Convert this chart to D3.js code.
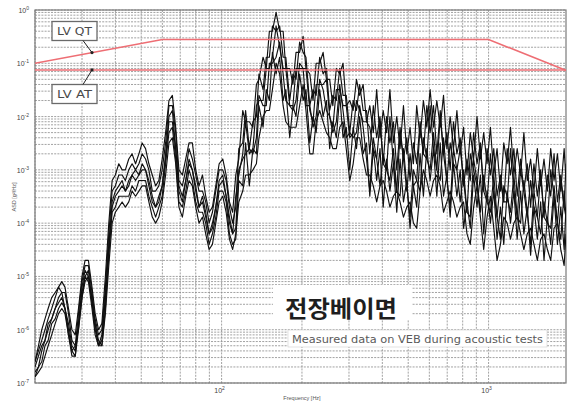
<!DOCTYPE html>
<html>
<head>
<meta charset="utf-8">
<script src="https://cdn.jsdelivr.net/npm/d3@7"></script>
<style>
  body { margin: 0; background: #fff; }
  svg { display: block; }
</style>
</head>
<body>
<svg id="chart" width="568" height="405"></svg>
<script>
// Frequency grid (Hz), roughly 1/24 octave spacing
const frequencies = [
  20, 20.6, 21.2, 21.8, 22.4, 23.1, 23.8, 24.5, 25.2, 25.9, 26.7, 27.5, 28.3, 29.1, 30.0, 30.8, 31.7, 32.7, 33.6, 34.6, 35.6, 36.7, 37.8, 38.9,
  40, 41.2, 42.4, 43.6, 44.9, 46.2, 47.6, 49.0, 50.4, 51.9, 53.4, 55.0, 56.6, 58.2, 59.9, 61.7, 63.5, 65.4, 67.3, 69.2, 71.3, 73.4, 75.5, 77.7,
  80, 82.3, 84.8, 87.2, 89.8, 92.4, 95.1, 97.9, 101, 104, 107, 110, 113, 116, 120, 123, 127, 131, 135, 138, 143, 147, 151, 155,
  160, 165, 170, 174, 180, 185, 190, 196, 202, 207, 214, 220, 226, 233, 240, 247, 254, 261, 269, 277, 285, 293, 302, 311,
  320, 329, 339, 349, 359, 370, 381, 392, 403, 415, 427, 440, 453, 466, 480, 494, 508, 523, 538, 554, 570, 587, 604, 622,
  640, 659, 678, 698, 718, 739, 761, 783, 806, 830, 854, 879, 905, 932, 959, 987, 1016, 1046, 1076, 1108, 1140, 1174, 1208, 1244,
  1280, 1318, 1356, 1396, 1437, 1479, 1523, 1567, 1613, 1661, 1709, 1759, 1811, 1864, 1919, 1950
];

// Measured ASD (g^2/Hz) on the VEB, one array per acoustic test run
const run1 = [
  2.5e-7, 4e-7, 6.3e-7, 1e-6, 1.6e-6, 2.5e-6, 4e-6, 6.3e-6, 8e-6, 6.3e-6, 2.5e-6, 1e-6, 8e-7, 2.5e-6, 1e-5, 2e-5, 2e-5, 6.3e-6, 2e-6, 1e-6, 1.3e-6, 1e-5, 1e-4, 6.3e-4,
  8e-4, 1.3e-3, 1e-3, 1e-3, 1.6e-3, 2e-3, 1.3e-3, 2e-3, 3.2e-3, 2.5e-3, 1.3e-3, 8e-4, 5e-4, 6.3e-4, 1.6e-3, 5e-3, 2e-2, 2.5e-2, 6.3e-3, 1e-3, 8e-4, 1.6e-3, 3.2e-3, 3.2e-3,
  1e-3, 5e-4, 8e-4, 3.2e-4, 1.6e-4, 2e-4, 5e-4, 1.3e-3, 1.6e-3, 8e-4, 2.5e-4, 1.6e-4, 8e-4, 1.6e-3, 1.3e-2, 8e-3, 8e-3, 6.3e-3, 4e-2, 5e-2, 0.13, 8e-2, 0.4, 0.4,
  0.9, 0.4, 0.4, 8e-2, 8e-2, 4e-2, 0.16, 0.16, 0.32, 8e-2, 6.3e-2, 2e-2, 0.1, 0.1, 0.16, 5e-2, 5e-2, 1.6e-2, 8e-2, 6.3e-2, 0.1, 1.6e-2, 2e-2, 1.3e-2,
  5e-2, 2.5e-2, 4e-2, 8e-3, 1.6e-2, 5e-3, 3.2e-2, 4e-3, 1.3e-2, 5e-3, 3.2e-2, 3.2e-3, 1e-2, 2.5e-3, 1.6e-2, 2e-3, 6.3e-3, 1.3e-3, 1.6e-2, 4e-3, 2e-2, 6.3e-3, 3.2e-2, 6.3e-3,
  2e-2, 6.3e-3, 2.5e-2, 2.5e-3, 1e-2, 2.5e-3, 1.3e-2, 2e-3, 6.3e-3, 8e-4, 5e-3, 1.6e-3, 1e-2, 1.6e-3, 5e-3, 1.3e-3, 6.3e-3, 8e-4, 2.5e-3, 4e-4, 3.2e-3, 1.3e-3, 6.3e-3, 8e-4,
  2.5e-3, 8e-4, 5e-3, 6.3e-4, 1.6e-3, 4e-4, 2.5e-3, 5e-4, 1.6e-3, 4e-4, 2.5e-3, 6.3e-4, 2e-3, 4e-4, 2.5e-3, 6.3e-4, 2e-3
];
const run2 = [
  1.3e-7, 2e-7, 4e-7, 6.3e-7, 1e-6, 1.6e-6, 2.5e-6, 4e-6, 5e-6, 5e-6, 2e-6, 6.3e-7, 5e-7, 2e-6, 8e-6, 1.6e-5, 1.6e-5, 5e-6, 1.6e-6, 8e-7, 1e-6, 6.3e-6, 6.3e-5, 4e-4,
  5e-4, 8e-4, 8e-4, 6.3e-4, 1e-3, 1.3e-3, 1e-3, 1.3e-3, 2e-3, 1.6e-3, 1e-3, 4e-4, 4e-4, 5e-4, 1e-3, 3.2e-3, 1.6e-2, 1.6e-2, 5e-3, 6.3e-4, 5e-4, 1e-3, 2.5e-3, 1.6e-3,
  8e-4, 4e-4, 4e-4, 2.5e-4, 1e-4, 1.6e-4, 4e-4, 1e-3, 1e-3, 6.3e-4, 2e-4, 1e-4, 2e-4, 2.5e-3, 3.2e-3, 1.3e-2, 2.5e-3, 8e-3, 1e-2, 6.3e-2, 3.2e-2, 0.13, 0.13, 0.5,
  0.4, 0.5, 0.13, 0.13, 2e-2, 6.3e-2, 5e-2, 0.25, 0.16, 0.13, 1.6e-2, 3.2e-2, 2.5e-2, 0.13, 6.3e-2, 8e-2, 1.3e-2, 2.5e-2, 2e-2, 8e-2, 2.5e-2, 2.5e-2, 5e-3, 2e-2,
  1.3e-2, 4e-2, 1.3e-2, 1.3e-2, 2e-3, 1.6e-2, 4e-3, 1e-2, 1.3e-3, 1e-2, 3.2e-3, 8e-3, 1e-3, 6.3e-3, 1.6e-3, 4e-3, 6.3e-4, 3.2e-3, 1.3e-3, 8e-3, 2e-3, 1.6e-2, 5e-3, 1.6e-2,
  2e-3, 1.3e-2, 2e-3, 5e-3, 1e-3, 8e-3, 2e-3, 4e-3, 5e-4, 1.6e-3, 6.3e-4, 5e-3, 1.3e-3, 3.2e-3, 4e-4, 2.5e-3, 8e-4, 2.5e-3, 3.2e-4, 8e-4, 2.5e-4, 2.5e-3, 8e-4, 2.5e-3,
  3.2e-4, 1.6e-3, 4e-4, 1.3e-3, 2e-4, 1.3e-3, 3.2e-4, 1e-3, 1.3e-4, 8e-4, 3.2e-4, 2e-3, 2.5e-4, 8e-4, 2e-4, 1.3e-3, 4e-4
];
const run3 = [
  1.6e-7, 2e-7, 2.5e-7, 5e-7, 6.3e-7, 1.3e-6, 1.6e-6, 2.5e-6, 3.2e-6, 2.5e-6, 1e-6, 4e-7, 3.2e-7, 1.3e-6, 6.3e-6, 1.3e-5, 1e-5, 3.2e-6, 1e-6, 5e-7, 6.3e-7, 4e-6, 4e-5, 2.5e-4,
  4e-4, 5e-4, 6.3e-4, 4e-4, 6.3e-4, 8e-4, 1e-3, 8e-4, 1.3e-3, 1e-3, 6.3e-4, 3.2e-4, 2e-4, 3.2e-4, 5e-4, 2e-3, 1e-2, 1.3e-2, 2.5e-3, 5e-4, 3.2e-4, 6.3e-4, 1.6e-3, 1e-3,
  5e-4, 2e-4, 3.2e-4, 1.6e-4, 6.3e-5, 1e-4, 2e-4, 6.3e-4, 8e-4, 3.2e-4, 1.3e-4, 6.3e-5, 3.2e-4, 8e-4, 2e-3, 8e-3, 2e-3, 2.5e-3, 1.6e-2, 2e-2, 2e-2, 8e-2, 8e-2, 0.13,
  0.5, 0.2, 8e-2, 8e-2, 1.6e-2, 1.6e-2, 8e-2, 8e-2, 8e-2, 8e-2, 1.3e-2, 8e-3, 4e-2, 4e-2, 4e-2, 5e-2, 1e-2, 6.3e-3, 3.2e-2, 3.2e-2, 1.6e-2, 1.6e-2, 4e-3, 5e-3,
  2e-2, 1.3e-2, 8e-3, 8e-3, 6.3e-3, 2.5e-3, 1.6e-3, 8e-3, 1.3e-3, 1e-3, 1e-2, 1.3e-3, 4e-4, 5e-3, 1.6e-3, 4e-4, 2e-3, 5e-4, 6.3e-4, 6.3e-3, 2e-3, 1.6e-3, 1.6e-2, 2.5e-3,
  1e-3, 1e-2, 2e-3, 6.3e-4, 3.2e-3, 1.3e-3, 1e-3, 2.5e-3, 6.3e-4, 1.6e-4, 2e-3, 1e-3, 5e-4, 2.5e-3, 4e-4, 2.5e-4, 2e-3, 4e-4, 1.3e-4, 6.3e-4, 2.5e-4, 2.5e-4, 2.5e-3, 4e-4,
  1.3e-4, 1e-3, 4e-4, 1.3e-4, 6.3e-4, 2e-4, 1.3e-4, 8e-4, 1.3e-4, 1e-4, 1e-3, 3.2e-4, 1e-4, 6.3e-4, 2e-4, 1.3e-4, 8e-4
];
const run4 = [
  2e-7, 3.2e-7, 5e-7, 6.3e-7, 1.3e-6, 1.6e-6, 2.5e-6, 3.2e-6, 4e-6, 2.5e-6, 1.3e-6, 5e-7, 4e-7, 1.3e-6, 5e-6, 1e-5, 1.3e-5, 3.2e-6, 1.3e-6, 5e-7, 8e-7, 4e-6, 3.2e-5, 2e-4,
  3.2e-4, 4e-4, 5e-4, 4e-4, 5e-4, 8e-4, 6.3e-4, 8e-4, 1e-3, 1e-3, 5e-4, 2.5e-4, 2e-4, 2.5e-4, 5e-4, 1.6e-3, 8e-3, 8e-3, 2.5e-3, 4e-4, 2.5e-4, 6.3e-4, 1.3e-3, 1e-3,
  4e-4, 2e-4, 2.5e-4, 1.3e-4, 6.3e-5, 8e-5, 2e-4, 5e-4, 6.3e-4, 3.2e-4, 1e-4, 6.3e-5, 8e-5, 1e-3, 1.6e-3, 2e-3, 2.5e-3, 2e-3, 4e-3, 2.5e-2, 1.6e-2, 1.6e-2, 0.1, 0.1,
  0.13, 0.25, 6.3e-2, 2e-2, 1.6e-2, 1.3e-2, 2e-2, 0.1, 8e-2, 1.6e-2, 1.6e-2, 6.3e-3, 1e-2, 5e-2, 3.2e-2, 1.3e-2, 1e-2, 5e-3, 8e-3, 4e-2, 1.3e-2, 4e-3, 5e-3, 4e-3,
  5e-3, 1.6e-2, 6.3e-3, 1.6e-3, 4e-4, 4e-3, 1.6e-3, 5e-4, 2e-3, 1e-3, 6.3e-4, 2.5e-3, 4e-4, 3.2e-4, 2.5e-3, 5e-4, 1.3e-4, 1e-3, 6.3e-4, 4e-4, 4e-3, 1.6e-3, 1e-3, 5e-3,
  1e-3, 6.3e-4, 4e-3, 6.3e-4, 2e-4, 2.5e-3, 1e-3, 2.5e-4, 1e-3, 1.6e-4, 1.3e-4, 1.6e-3, 6.3e-4, 1.6e-4, 8e-4, 2.5e-4, 1.6e-4, 8e-4, 1.3e-4, 5e-5, 5e-4, 3.2e-4, 1.6e-4, 8e-4,
  1.3e-4, 1e-4, 6.3e-4, 1.6e-4, 4e-5, 4e-4, 1.3e-4, 6.3e-5, 2.5e-4, 1e-4, 8e-5, 5e-4, 1e-4, 5e-5, 4e-4, 1.3e-4, 8e-5
];
const run5 = [
  2.5e-7, 5e-7, 1e-6, 1.6e-6, 2.5e-6, 4e-6, 5e-6, 6.3e-6, 5e-6, 2.5e-6, 8e-7, 4e-7, 5e-7, 1e-6, 4e-6, 8e-6, 1e-5, 4e-6, 1.3e-6, 6.3e-7, 5e-7, 2.5e-6, 2.5e-5, 1.6e-4,
  2e-4, 3.2e-4, 3.2e-4, 3.2e-4, 3.2e-4, 5e-4, 4e-4, 6.3e-4, 6.3e-4, 6.3e-4, 3.2e-4, 2e-4, 1.3e-4, 2e-4, 3.2e-4, 1.3e-3, 5e-3, 6.3e-3, 1.6e-3, 2.5e-4, 2e-4, 4e-4, 1e-3, 6.3e-4,
  2.5e-4, 1.6e-4, 1.6e-4, 1e-4, 4e-5, 6.3e-5, 1.3e-4, 4e-4, 4e-4, 2.5e-4, 6.3e-5, 4e-5, 5e-5, 6.3e-4, 5e-4, 3.2e-3, 5e-4, 2.5e-3, 2e-3, 1.6e-2, 6.3e-3, 3.2e-2, 2e-2, 0.16,
  6.3e-2, 0.13, 2e-2, 3.2e-2, 4e-3, 1.6e-2, 1e-2, 6.3e-2, 2e-2, 3.2e-2, 3.2e-3, 1e-2, 5e-3, 3.2e-2, 1e-2, 2e-2, 2.5e-3, 8e-3, 4e-3, 2.5e-2, 4e-3, 6.3e-3, 1e-3, 6.3e-3,
  2.5e-3, 1e-2, 2e-3, 3.2e-3, 3.2e-4, 2.5e-3, 6.3e-4, 2.5e-3, 2e-4, 1.6e-3, 4e-4, 1.3e-3, 1.6e-4, 1.6e-3, 2.5e-4, 6.3e-4, 8e-5, 5e-4, 2e-4, 2e-3, 3.2e-4, 2.5e-3, 6.3e-4, 2.5e-3,
  3.2e-4, 3.2e-3, 3.2e-4, 8e-4, 1.3e-4, 1.3e-3, 3.2e-4, 1e-3, 8e-5, 2.5e-4, 8e-5, 8e-4, 2e-4, 8e-4, 6.3e-5, 4e-4, 1e-4, 4e-4, 5e-5, 2e-4, 4e-5, 4e-4, 1e-4, 4e-4,
  5e-5, 4e-4, 6.3e-5, 2e-4, 2.5e-5, 2e-4, 5e-5, 2.5e-4, 2e-5, 1.3e-4, 4e-5, 3.2e-4, 4e-5, 2e-4, 3.2e-5, 2e-4, 4e-5
];
const run6 = [
  1.3e-7, 1.6e-7, 2e-7, 3.2e-7, 5e-7, 8e-7, 1.3e-6, 2e-6, 2.5e-6, 2e-6, 8e-7, 3.2e-7, 3.2e-7, 1e-6, 4e-6, 1e-5, 8e-6, 2.5e-6, 8e-7, 5e-7, 5e-7, 2e-6, 1.6e-5, 1e-4,
  1.6e-4, 2e-4, 2.5e-4, 2e-4, 2.5e-4, 4e-4, 3.2e-4, 4e-4, 5e-4, 5e-4, 2.5e-4, 1.3e-4, 1e-4, 1.3e-4, 2.5e-4, 8e-4, 3.2e-3, 4e-3, 1.3e-3, 2e-4, 1.3e-4, 3.2e-4, 6.3e-4, 5e-4,
  2e-4, 1e-4, 1.3e-4, 6.3e-5, 3.2e-5, 4e-5, 1e-4, 2.5e-4, 3.2e-4, 1.6e-4, 5e-5, 3.2e-5, 6.3e-5, 2.5e-4, 4e-4, 8e-4, 8e-4, 1e-3, 1.3e-3, 4e-3, 1e-2, 1.3e-2, 1.3e-2, 3.2e-2,
  0.1, 6.3e-2, 1.6e-2, 8e-3, 6.3e-3, 6.3e-3, 6.3e-3, 1.6e-2, 4e-2, 1.3e-2, 2e-3, 2e-3, 8e-3, 1.3e-2, 8e-3, 5e-3, 4e-3, 2.5e-3, 2.5e-3, 6.3e-3, 8e-3, 2.5e-3, 6.3e-4, 1.3e-3,
  4e-3, 4e-3, 1.6e-3, 8e-4, 8e-4, 5e-4, 2.5e-4, 5e-4, 6.3e-4, 4e-4, 2e-4, 3.2e-4, 4e-4, 2.5e-4, 1.3e-4, 2e-4, 2.5e-4, 1e-4, 8e-5, 4e-4, 1e-3, 6.3e-4, 3.2e-4, 6.3e-4,
  8e-4, 5e-4, 1.6e-4, 2.5e-4, 4e-4, 2.5e-4, 1.3e-4, 2e-4, 2.5e-4, 6.3e-5, 4e-5, 2e-4, 5e-4, 1.3e-4, 3.2e-5, 1.3e-4, 3.2e-4, 8e-5, 2e-5, 4e-5, 1.3e-4, 1e-4, 5e-5, 1e-4,
  1.3e-4, 6.3e-5, 3.2e-5, 6.3e-5, 8e-5, 4e-5, 2e-5, 5e-5, 6.3e-5, 3.2e-5, 2e-5, 8e-5, 1e-4, 3.2e-5, 1.6e-5, 6.3e-5, 1.3e-4
];
const measuredRuns = [run1, run2, run3, run4, run5, run6];

// Launch vehicle specification levels (g^2/Hz)
const lvQtFreq = [20, 60, 1000, 2000];
const lvQtLevel = [0.1, 0.28, 0.28, 0.07];
const lvAtFreq = [20, 2000];
const lvAtLevel = [0.075, 0.075];

// Decade exponents for the axis labels
const yDecades = [0, -1, -2, -3, -4, -5, -6, -7];
const xDecades = [2, 3];

const svg = d3.select("#chart");
const plot = { left: 35, right: 566, top: 10, bottom: 383 };

const x = d3.scaleLog().domain([20, 1950]).range([plot.left, plot.right]);
const y = d3.scaleLog().domain([1e-7, 1]).range([plot.bottom, plot.top]);

svg.append("defs").append("clipPath").attr("id", "plotClip")
  .append("rect")
  .attr("x", plot.left).attr("y", plot.top)
  .attr("width", plot.right - plot.left).attr("height", plot.bottom - plot.top);

// Dashed log grid
const grid = svg.append("g").attr("stroke", "#8a8a8a").attr("stroke-width", 0.8)
  .attr("stroke-dasharray", "2,1.2");
grid.selectAll("line.v").data(x.ticks()).join("line").attr("class", "v")
  .attr("x1", d => x(d)).attr("x2", d => x(d))
  .attr("y1", plot.top).attr("y2", plot.bottom);
grid.selectAll("line.h").data(y.ticks()).join("line").attr("class", "h")
  .attr("x1", plot.left).attr("x2", plot.right)
  .attr("y1", d => y(d)).attr("y2", d => y(d));

// Plot frame
svg.append("rect")
  .attr("x", plot.left).attr("y", plot.top)
  .attr("width", plot.right - plot.left).attr("height", plot.bottom - plot.top)
  .attr("fill", "none").attr("stroke", "#7a7a7a").attr("stroke-width", 1.2);

// Text boxes in the lower right
svg.append("rect").attr("x", 273).attr("y", 285).attr("width", 139).attr("height", 35)
  .attr("fill", "#fff");
svg.append("text").attr("x", 285).attr("y", 316.5)
  .attr("font-family", "'Noto Sans CJK KR', sans-serif").attr("font-weight", "bold")
  .attr("font-size", 22.5).attr("fill", "#1e1e1e")
  .attr("textLength", 112).attr("lengthAdjust", "spacingAndGlyphs")
  .text("전장베이면");

svg.append("rect").attr("x", 288).attr("y", 330).attr("width", 259).attr("height", 17)
  .attr("fill", "#fff").attr("stroke", "#d0d0d0").attr("stroke-width", 0.6);
svg.append("text").attr("x", 292).attr("y", 342.5)
  .attr("font-family", "'DejaVu Sans', sans-serif").attr("font-size", 10)
  .attr("fill", "#5a5a5a").attr("textLength", 251).attr("lengthAdjust", "spacingAndGlyphs")
  .text("Measured data on VEB during acoustic tests");

// Measured spectra
const line = d3.line()
  .x((d, i) => x(frequencies[i]))
  .y(d => y(d));

svg.append("g").attr("clip-path", "url(#plotClip)")
  .selectAll("path").data(measuredRuns).join("path")
  .attr("d", line)
  .attr("fill", "none").attr("stroke", "#111").attr("stroke-width", 1.15)
  .attr("stroke-linejoin", "round");

// Specification lines
const specLine = (freqs) => d3.line().x((d, i) => x(freqs[i])).y(d => y(d));
const spec = svg.append("g").attr("clip-path", "url(#plotClip)")
  .attr("fill", "none").attr("stroke", "#ee6e74").attr("stroke-width", 1.6);
spec.append("path").attr("d", specLine(lvQtFreq)(lvQtLevel));
spec.append("path").attr("d", specLine(lvAtFreq)(lvAtLevel));

// Level at a frequency along a log-log segment list
function levelAt(freqs, levels, f) {
  for (let i = 0; i < freqs.length - 1; i++) {
    if (f >= freqs[i] && f <= freqs[i + 1]) {
      const t = Math.log(f / freqs[i]) / Math.log(freqs[i + 1] / freqs[i]);
      return Math.exp(Math.log(levels[i]) + t * Math.log(levels[i + 1] / levels[i]));
    }
  }
  return levels[levels.length - 1];
}

// Callout boxes for the two specification lines
function callout(label, boxY, fromY, freqs, levels) {
  const g = svg.append("g");
  g.append("rect").attr("x", 52).attr("y", boxY).attr("width", 45).attr("height", 19)
    .attr("fill", "#fff").attr("stroke", "#6a6a6a").attr("stroke-width", 1.3);
  g.append("text").attr("x", 74.5).attr("y", boxY + 13.5).attr("text-anchor", "middle")
    .attr("font-family", "'DejaVu Sans', sans-serif").attr("font-size", 10.5)
    .attr("fill", "#4a4a4a").attr("textLength", 35).attr("lengthAdjust", "spacingAndGlyphs")
    .text(label);
  const f = 32.7;
  const tx = x(f), ty = y(levelAt(freqs, levels, f));
  g.append("line").attr("x1", 83).attr("y1", fromY).attr("x2", tx).attr("y2", ty)
    .attr("stroke", "#222").attr("stroke-width", 1);
  g.append("circle").attr("cx", tx).attr("cy", ty).attr("r", 1.6).attr("fill", "#222");
}
callout("LV QT", 21.5, 40.5, lvQtFreq, lvQtLevel);
callout("LV AT", 84.5, 84.5, lvAtFreq, lvAtLevel);

// Axis labels
const yLabels = svg.append("g").attr("font-family", "'Liberation Sans', sans-serif")
  .attr("fill", "#444");
yDecades.forEach(e => {
  const t = yLabels.append("text").attr("x", 29).attr("y", y(Math.pow(10, e)) + 3)
    .attr("text-anchor", "end").attr("font-size", 7);
  t.append("tspan").text("10");
  t.append("tspan").attr("dy", -3).attr("font-size", 5).text(e === 0 ? "0" : "-" + (-e));
});
xDecades.forEach(e => {
  const t = svg.append("text").attr("x", x(Math.pow(10, e)) - 2).attr("y", 393)
    .attr("text-anchor", "middle").attr("font-family", "'Liberation Sans', sans-serif")
    .attr("font-size", 7).attr("fill", "#444");
  t.append("tspan").text("10");
  t.append("tspan").attr("dy", -3).attr("font-size", 5).text(e);
});

svg.append("text").attr("x", 302).attr("y", 400).attr("text-anchor", "middle")
  .attr("font-family", "'Liberation Sans', sans-serif").attr("font-size", 5.5)
  .attr("fill", "#555").text("Frequency [Hz]");
svg.append("text").attr("transform", "translate(16,197) rotate(-90)")
  .attr("text-anchor", "middle")
  .attr("font-family", "'Liberation Sans', sans-serif").attr("font-size", 5.5)
  .attr("fill", "#555").text("ASD [g²/Hz]");
</script>
</body>
</html>
